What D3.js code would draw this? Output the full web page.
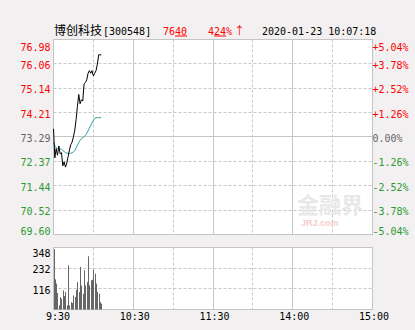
<!DOCTYPE html>
<meta charset="utf-8">
<html>
<style>
  body { margin: 0; background: #f2f0f1; }
  svg { display: block; }
  .mono { font-family: "DejaVu Sans Mono", monospace; font-size: 10px; }
  .cn { font-family: "Noto Sans CJK SC", sans-serif; font-size: 12px; }
  .axis path, .axis line { display: none; }
</style>
<script src="https://cdn.jsdelivr.net/npm/d3@7"></script>
<body>
  <svg class="chart"></svg>
</body>
<script>
  var width = 415;
  var height = 330;

  // minutes since 9:30, one point per minute (9:30 .. 10:06)
  var price = [73.60, 72.50, 72.85, 72.60, 72.95, 72.65, 72.70, 72.20, 72.35, 72.15,
    72.30, 72.55, 72.80, 73.00, 73.10, 73.30, 73.55, 73.95, 74.45, 74.90,
    74.55, 74.70, 74.65, 75.30, 75.35, 75.45, 75.70, 75.80, 75.70, 75.80,
    75.60, 75.70, 75.80, 76.05, 76.40, 76.40, 76.40];
  var avgPrice = [73.10, 72.95, 72.88, 72.85, 72.87, 72.85, 72.82, 72.78, 72.74, 72.70,
    72.68, 72.67, 72.67, 72.68, 72.69, 72.72, 72.78, 72.88, 72.98, 73.08,
    73.16, 73.22, 73.26, 73.30, 73.35, 73.43, 73.52, 73.62, 73.72, 73.82,
    73.92, 74.00, 74.02, 74.02, 74.02, 74.02, 74.02];
  var volume = [338, 169, 145, 92, 23, 70, 60, 107, 75, 98, 23, 248, 23, 41, 36, 79, 70,
    111, 154, 98, 239, 135, 88, 220, 135, 154, 299, 135, 164, 167, 224, 201, 145,
    98, 88, 41, 32];

  var priceTicks = [76.98, 76.06, 75.14, 74.21, 73.29, 72.37, 71.44, 70.52, 69.60];
  var pctTicks = ["+5.04%", "+3.78%", "+2.52%", "+1.26%", "0.00%", "-1.26%", "-2.52%", "-3.78%", "-5.04%"];
  var volTicks = [348, 232, 116];
  var timeTicks = [0, 60, 120, 180, 240];
  var timeLabels = ["9:30", "10:30", "11:30", "14:00", "15:00"];
  var preClose = 73.29;

  var L = 53.5, R = 372.5;
  var x = d3.scaleLinear().domain([0, 240]).range([L, R]);
  var y = d3.scaleLinear().domain([69.60, 76.98]).range([234.5, 39.5]);
  var yv = d3.scaleLinear().domain([0, 348]).range([309.5, 247.5]);

  var svg = d3.select(".chart").attr("width", width).attr("height", height);

  function colorOf(i) {
    if (i < 4) return "#ff0000";
    if (i == 4) return "#666666";
    return "#2f992f";
  }
  function snap(v) { return Math.round(v - 0.5) + 0.5; }

  // header
  svg.append("text").attr("class", "cn").attr("x", 54).attr("y", 34.5).attr("fill", "#000").text("博创科技");
  svg.append("text").attr("class", "mono").attr("x", 103).attr("y", 34.5).attr("fill", "#000").text("[300548]");
  var t1 = svg.append("text").attr("class", "mono").attr("x", 163).attr("y", 34.5).attr("fill", "#ff0000");
  t1.append("tspan").text("76");
  t1.append("tspan").attr("text-decoration", "underline").text("40");
  var t2 = svg.append("text").attr("class", "mono").attr("x", 208).attr("y", 34.5).attr("fill", "#ff0000");
  t2.append("tspan").text("4");
  t2.append("tspan").attr("text-decoration", "underline").text("24");
  t2.append("tspan").text("%");
  svg.append("text").attr("class", "cn").attr("x", 234).attr("y", 34.5).attr("fill", "#ff0000")
    .style("font-size", "11px").text("↑");
  svg.append("text").attr("class", "mono").attr("x", 262).attr("y", 34.5).attr("fill", "#000").text("2020-01-23 10:07:18");

  // panels
  function panel(y0, y1, hTicks, scale) {
    var g = svg.append("g");
    g.append("rect").attr("x", L).attr("y", y0).attr("width", R - L).attr("height", y1 - y0)
      .attr("fill", "#fff");
    g.selectAll(".hg").data(hTicks).enter().append("line")
      .attr("x1", L).attr("x2", R)
      .attr("y1", function(d) { return snap(scale(d)); })
      .attr("y2", function(d) { return snap(scale(d)); })
      .attr("stroke", function(d) { return d == preClose ? "#c4c4c4" : "#c8c8c8"; })
      .attr("stroke-dasharray", function(d) { return d == preClose ? null : "3,2"; });
    var vt = d3.range(30, 240, 30);
    g.selectAll(".vg").data(vt).enter().append("line")
      .attr("y1", y0).attr("y2", y1)
      .attr("x1", function(d) { return snap(x(d)); })
      .attr("x2", function(d) { return snap(x(d)); })
      .attr("stroke", "#c8c8c8")
      .attr("stroke-dasharray", function(d) { return d % 60 == 0 ? null : "3,2"; });
    g.append("rect").attr("x", L).attr("y", y0).attr("width", R - L).attr("height", y1 - y0)
      .attr("fill", "none").attr("stroke", "#c4c4c4");
    return g;
  }
  panel(39.5, 234.5, priceTicks.slice(1, -1), y);
  panel(247.5, 309.5, volTicks.slice(1), yv);

  // watermark
  svg.append("text").attr("x", 297).attr("y", 213).attr("fill", "#e8e8e8")
    .style("font-family", "Noto Sans CJK SC").style("font-size", "22px").style("font-weight", "bold")
    .text("金融界");
  svg.append("text").attr("x", 301).attr("y", 226).attr("fill", "#f6cccc")
    .style("font-family", "Liberation Sans").style("font-size", "9px").style("font-weight", "bold")
    .text("JRJ.com");

  // price axes
  var leftAxis = svg.append("g").attr("class", "axis mono").attr("transform", "translate(" + (L - 3) + ",0)")
    .call(d3.axisLeft(y).tickValues(priceTicks).tickSize(0).tickPadding(0).tickFormat(d3.format(".2f")));
  leftAxis.selectAll("text")
    .attr("fill", function(d, i) { return colorOf(i); })
    .attr("dy", function(d, i) { return i == 0 ? "1.05em" : i == priceTicks.length - 1 ? "0em" : "0.45em"; })
    .style("font-family", "DejaVu Sans Mono").style("font-size", "10px");

  var rightAxis = svg.append("g").attr("class", "axis mono").attr("transform", "translate(" + R + ",0)")
    .call(d3.axisRight(y).tickValues(priceTicks).tickSize(0).tickPadding(0)
      .tickFormat(function(d, i) { return pctTicks[i]; }));
  rightAxis.selectAll("text")
    .attr("fill", function(d, i) { return colorOf(i); })
    .attr("dy", function(d, i) { return i == 0 ? "1.05em" : i == priceTicks.length - 1 ? "0em" : "0.45em"; })
    .style("font-family", "DejaVu Sans Mono").style("font-size", "10px");

  var volAxis = svg.append("g").attr("class", "axis mono").attr("transform", "translate(" + (L - 3) + ",0)")
    .call(d3.axisLeft(yv).tickValues(volTicks).tickSize(0).tickPadding(0));
  volAxis.selectAll("text")
    .attr("fill", "#000")
    .attr("dy", function(d, i) { return i == 0 ? "0.85em" : "0.45em"; })
    .style("font-family", "DejaVu Sans Mono").style("font-size", "10px");

  var timeAxis = svg.append("g").attr("class", "axis mono").attr("transform", "translate(0,313)")
    .call(d3.axisBottom(x).tickValues(timeTicks).tickSize(0).tickPadding(0)
      .tickFormat(function(d, i) { return timeLabels[i]; }));
  timeAxis.selectAll("text")
    .attr("fill", "#000")
    .attr("dx", function(d, i) { return i == 0 ? 4 : 1; })
    .style("font-family", "DejaVu Sans Mono").style("font-size", "10px");

  // volume bars
  svg.append("g").selectAll("rect").data(volume).enter().append("rect")
    .attr("x", function(d, i) { return Math.round(x(i)); })
    .attr("y", function(d) { return yv(d); })
    .attr("width", 1)
    .attr("height", function(d) { return yv(0) - yv(d); })
    .attr("fill", "#666666");

  // lines
  var line = d3.line().x(function(d, i) { return x(i); }).y(function(d) { return y(d); });
  svg.append("path").datum(avgPrice).attr("d", line)
    .attr("fill", "none").attr("stroke", "#2e9c9c").attr("stroke-width", 1);
  svg.append("path").datum(price).attr("d", line)
    .attr("fill", "none").attr("stroke", "#000").attr("stroke-width", 1);
</script>

</html>
